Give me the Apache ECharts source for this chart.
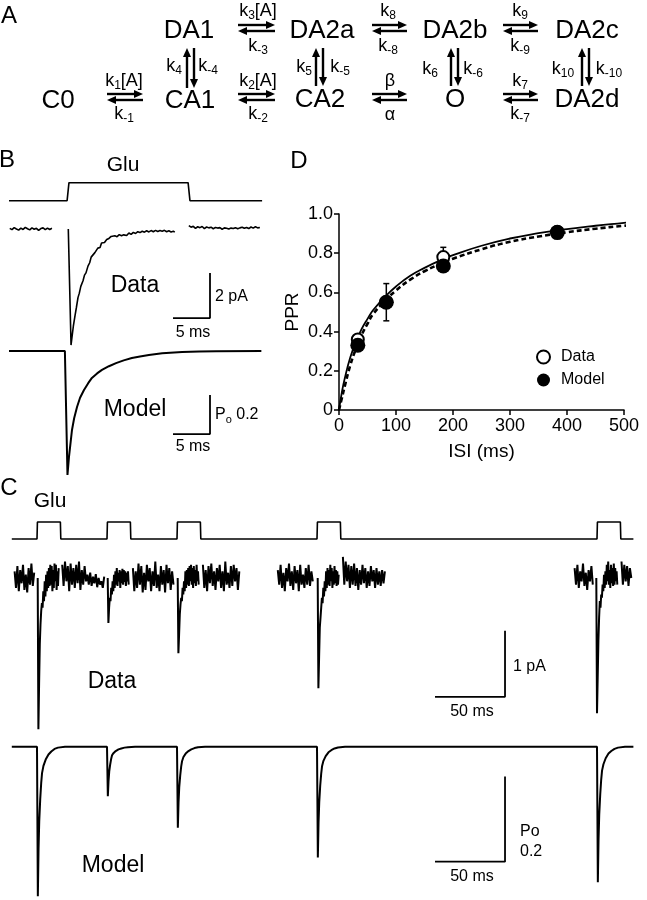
<!DOCTYPE html>
<html>
<head>
<meta charset="utf-8">
<script src="https://cdn.jsdelivr.net/npm/echarts@6.0.0/dist/echarts.min.js"></script>
<style>
  html, body { margin: 0; padding: 0; background: #fff; }
  #main { width: 647px; height: 900px; }
</style>
</head>
<body>
<div id="main"></div>
<script>
var FONT = 'Liberation Sans, Arial, Helvetica, sans-serif';

// ---- D: paired-pulse ratio ----
var isi = [33, 83, 183, 383];
var pprData = [0.36, 0.55, 0.78, 0.91];
var pprDataErr = [0.02, 0.095, 0.05, 0.01];
var pprModel = [0.33, 0.55, 0.735, 0.905];
var fitIsi = [0, 5, 10, 20, 30, 40, 50, 60, 80, 100, 125, 150, 183, 200, 250, 300, 350, 400, 450, 500, 515];
var fitData = [0, 0.09, 0.16, 0.27, 0.35, 0.415, 0.465, 0.51, 0.575, 0.63, 0.685, 0.725, 0.77, 0.79, 0.838, 0.875, 0.902, 0.923, 0.94, 0.955, 0.96];
var fitModel = [0, 0.06, 0.12, 0.23, 0.315, 0.385, 0.44, 0.49, 0.555, 0.61, 0.665, 0.708, 0.752, 0.772, 0.82, 0.858, 0.885, 0.907, 0.925, 0.94, 0.944];

// ---- B: single 16 ms pulse ----
var bPulse = [0.15, 16.5];              // Glu on / off, ms
var bDataPre = [0.03, -0.03, 0.06, 0.0, -0.05, 0.04, -0.02, 0.07, 0.01, -0.04, 0.05, -0.01, 0.03, -0.06, 0.02, 0.05, -0.03, 0.04, -0.02, 0.03]; // pA, every 0.3 ms from -7.6
var bDataPeak = [[0.31, 0], [0.68, -5.16], [0.85, -4.7], [1.0, -4.3], [1.22, -3.85], [1.4, -3.5], [1.62, -3.05], [1.8, -2.85], [2.0, -2.55], [2.3, -2.3], [2.5, -2.05], [2.7, -1.95], [2.97, -1.65], [3.2, -1.5], [3.4, -1.25], [3.6, -1.3], [3.9, -1.05], [4.1, -0.98], [4.3, -0.85], [4.6, -0.82], [4.8, -0.62], [5.0, -0.58], [5.2, -0.6], [5.5, -0.47], [5.8, -0.42], [6.1, -0.33], [6.35, -0.38], [6.6, -0.3], [6.9, -0.34], [7.2, -0.25], [7.5, -0.3], [7.8, -0.26], [8.2, -0.29], [8.5, -0.18], [8.8, -0.24], [9.1, -0.15], [9.4, -0.2], [9.7, -0.12], [10.0, -0.16], [10.3, -0.1], [10.6, -0.14], [10.9, -0.08], [11.2, -0.13], [11.5, -0.07], [11.8, -0.12], [12.1, -0.06], [12.4, -0.11], [12.7, -0.07], [13.0, -0.1], [13.3, -0.06], [13.6, -0.12], [13.9, -0.08], [14.2, -0.13], [14.5, -0.1], [14.7, -0.14]];
var bDataPost = [0.15, 0.08, 0.12, 0.03, 0.1, 0.06, 0.11, 0.02, 0.09, 0.05, 0.08, 0.01, 0.07, 0.04, 0.06, -0.01, 0.05, 0.03, 0.0, 0.04, 0.02, 0.06, 0.01, 0.05, 0.08, 0.03, 0.07, 0.02, 0.09, 0.04, 0.1, 0.05, 0.07]; // pA, every 0.3 ms from 16.6
var bModel = [[-7.7, 0], [-0.15, 0], [0.2, -0.636], [0.4, -0.544], [0.81, -0.405], [1.1, -0.345], [1.49, -0.287], [1.9, -0.24], [2.43, -0.2], [3.0, -0.165], [3.5, -0.138], [4.2, -0.115], [4.86, -0.097], [5.8, -0.078], [6.76, -0.062], [7.8, -0.048], [8.9, -0.036], [10, -0.028], [11.2, -0.021], [13, -0.012], [15.7, -0.005], [18, -0.003], [20.3, -0.001], [26.4, 0]];

// ---- C: pulse train ----
var cPulseOn = [0, 50, 100, 200, 400];
var cPulseWidth = 16.7;
// [start ms, step ms, values in pA]; '-' breaks the trace
var cDataPieces = [
  [-16, 1, [0.1, -0.15, 0.18, -0.2, 0.12, -0.08, 0.2, -0.18, 0.05, -0.22, 0.15, -0.1, 0.22, -0.12, 0.08, '-']],
  [0.5, 0.5, [0, -2.29, -1.6, -1.0, -0.7, -0.5, -0.38, -0.45, -0.2, -0.35, -0.05, -0.28, 0.05, -0.2, 0.1, -0.15, 0.15, -0.12, 0.2, -0.1, 0.18, -0.2, 0.12, -0.15, 0.22, -0.05, 0.2, -0.18, 0.1, -0.12, 0.15, '-']],
  [18, 1, [0.2, -0.12, 0.25, -0.05, 0.18, -0.2, 0.22, -0.1, 0.15, -0.15, 0.2, -0.08, 0.25, -0.18, 0.12, -0.1, 0.18, -0.05, 0.05, -0.1, 0.08, -0.12, 0.02, -0.08, 0.06, -0.14, 0.0, -0.1, -0.05, -0.15, 0.02, '-']],
  [50.5, 0.5, [0, -0.68, -0.45, -0.3, -0.35, -0.15, -0.25, -0.05, -0.2, 0.05, -0.15, 0.1, -0.1, 0.15, -0.12, 0.08, -0.05, 0.12, -0.15, 0.1, -0.08, 0.14, -0.1, 0.12, -0.06, 0.1, -0.12, 0.08, -0.05, 0.1, -0.1, '-']],
  [68.5, 1, [0.15, -0.2, 0.1, -0.15, 0.22, -0.1, 0.18, -0.22, 0.08, -0.18, 0.2, -0.05, 0.15, -0.2, 0.1, -0.12, 0.25, -0.15, 0.05, -0.2, 0.18, -0.1, 0.12, -0.22, 0.2, -0.08, 0.15, -0.18, 0.1, -0.1, '-']],
  [100.5, 0.5, [0, -1.14, -0.85, -0.55, -0.4, -0.3, -0.35, -0.15, -0.25, -0.05, -0.2, 0.1, -0.15, 0.12, -0.1, 0.15, -0.12, 0.18, -0.05, 0.2, -0.1, 0.15, -0.15, 0.18, -0.08, 0.12, -0.12, 0.2, -0.05, 0.1, -0.1, '-']],
  [118.5, 1, [0.2, -0.15, 0.12, -0.2, 0.18, -0.08, 0.22, -0.12, 0.1, -0.18, 0.15, -0.05, 0.2, -0.15, 0.1, -0.2, 0.25, -0.1, 0.08, -0.15, 0.18, -0.12, 0.2, -0.05, 0.15, -0.18, 0.1, '-']],
  [172, 1, [0.12, -0.1, 0.2, -0.15, 0.08, -0.2, 0.15, -0.05, 0.22, -0.12, 0.1, -0.18, 0.18, -0.08, 0.12, -0.2, 0.2, -0.1, 0.05, -0.15, 0.15, -0.1, 0.2, -0.12, 0.1, -0.05, '-']],
  [200.5, 0.5, [0, -1.67, -1.2, -0.75, -0.6, -0.45, -0.3, -0.38, -0.15, -0.28, -0.05, -0.2, 0.1, -0.15, 0.15, -0.1, 0.12, -0.12, 0.2, -0.05, 0.15, -0.15, 0.1, -0.1, 0.18, -0.08, 0.12, -0.12, 0.1, -0.1, 0.05, '-']],
  [218.5, 1, [0.32, -0.1, 0.25, -0.05, 0.2, -0.15, 0.18, -0.1, 0.22, -0.12, 0.15, -0.18, 0.12, -0.1, 0.2, -0.08, 0.15, -0.15, 0.1, -0.12, 0.18, -0.05, 0.12, -0.15, 0.15, -0.1, 0.1, -0.12, 0.12, -0.08, 0.1, '-']],
  [384, 1, [0.15, -0.1, 0.2, -0.15, 0.1, -0.05, 0.22, -0.12, 0.08, -0.18, 0.12, -0.05, 0.18, -0.1, '-']],
  [399.5, 0.5, [0, -2.05, -1.5, -0.95, -0.6, -0.35, -0.45, -0.25, -0.3, -0.1, -0.2, 0.05, -0.15, 0.1, -0.1, 0.2, -0.05, 0.25, -0.1, 0.12, -0.15, 0.2, -0.08, 0.15, -0.12, 0.22, -0.1, 0.15, -0.05, 0.1, -0.1, '-']],
  [417.5, 1, [0.25, -0.1, 0.2, -0.05, 0.18, -0.12, 0.15, 0.0]]
];
var cModel = [[-18, 0], [0, 0], [0.6, -0.351], [1.1, -0.24], [1.6, -0.175], [2.3, -0.123], [3.0, -0.085], [3.6, -0.062], [4.6, -0.045], [6.2, -0.03], [8.2, -0.018], [10.2, -0.011], [12.5, -0.005], [15, -0.002], [20, 0],
  [50, 0], [50.6, -0.116], [51.1, -0.08], [51.6, -0.058], [52.3, -0.041], [53.0, -0.028], [53.6, -0.02], [54.6, -0.015], [56.2, -0.01], [58.2, -0.006], [60.2, -0.004], [62.5, -0.002], [65, -0.001], [70, 0],
  [100, 0], [100.6, -0.19], [101.1, -0.13], [101.6, -0.095], [102.3, -0.067], [103.0, -0.046], [103.6, -0.034], [104.6, -0.024], [106.2, -0.016], [108.2, -0.01], [110.2, -0.006], [112.5, -0.003], [115, -0.001], [120, 0],
  [200, 0], [200.6, -0.26], [201.1, -0.178], [201.6, -0.13], [202.3, -0.091], [203.0, -0.063], [203.6, -0.046], [204.6, -0.033], [206.2, -0.022], [208.2, -0.013], [210.2, -0.008], [212.5, -0.004], [215, -0.0015], [220, 0],
  [400, 0], [400.6, -0.318], [401.1, -0.218], [401.6, -0.159], [402.3, -0.112], [403.0, -0.077], [403.6, -0.056], [404.6, -0.041], [406.2, -0.027], [408.2, -0.016], [410.2, -0.01], [412.5, -0.005], [415, -0.002], [420, 0], [426, 0]];

// scale bars: [time, amplitude]
var bScaleData = [5, 2];
var bScaleModel = [5, 0.2];
var cScaleData = [50, 1];
var cScaleModel = [50, 0.2];

// ---------- helpers ----------
function frame(x0, pxX, t0, t1, y0, pxY, v0, v1) {
  return { left: x0 + t0 * pxX, width: (t1 - t0) * pxX, top: y0 - v1 * pxY, height: (v1 - v0) * pxY };
}
function pieces(list) {
  var pts = [];
  list.forEach(function (p) {
    p[2].forEach(function (v, i) { pts.push([p[0] + i * p[1], v]); });
  });
  return pts;
}
function steps(onsets, width, rise, tStart, tEnd) {
  var pts = [[tStart, 0]];
  onsets.forEach(function (t) {
    pts.push([t, 0], [t + rise, 1], [t + width, 1], [t + width + rise, 0]);
  });
  pts.push([tEnd, 0]);
  return pts;
}
function scaleBar(corner, size) {
  // corner = [t, v] of the bottom-right corner
  return [[corner[0] - size[0], corner[1]], corner, [corner[0], corner[1] + size[1]]];
}
function trace(grid, data, width) {
  return {
    type: 'line', xAxisIndex: grid, yAxisIndex: grid, data: data,
    showSymbol: false, symbol: 'none', silent: true, clip: false,
    lineStyle: { color: '#000', width: width }
  };
}

var bDataTrace = [];
bDataPre.forEach(function (v, i) { bDataTrace.push([-7.6 + i * 0.3, v]); });
bDataTrace.push([-1.5, '-']);
bDataPeak.forEach(function (p) { bDataTrace.push(p); });
bDataTrace.push([15.5, '-']);
bDataPost.forEach(function (v, i) { bDataTrace.push([16.6 + i * 0.3, v]); });

// ---------- layout ----------
var grids = [
  { left: 339, right: 23, top: 214, bottom: 490 },                 // 0: D
  frame(66, 7.4, -7.7, 26.5, 200.7, 18, -0.2, 1.2),                // 1: B Glu
  frame(66, 7.4, -7.7, 26.5, 229, 22.5, -5.5, 0.6),                // 2: B data
  frame(66, 7.4, -7.7, 26.5, 351, 195, -0.7, 0.1),                 // 3: B model
  frame(37, 1.4, -18, 426, 539, 17, -0.2, 1.2),                    // 4: C Glu
  frame(37, 1.4, -18, 426, 578, 66, -2.45, 0.45),                  // 5: C data
  frame(37, 1.4, -18, 426, 747, 430, -0.36, 0.05)                  // 6: C model
];
var ranges = [null,
  [-7.7, 26.5, -0.2, 1.2], [-7.7, 26.5, -5.5, 0.6], [-7.7, 26.5, -0.7, 0.1],
  [-18, 426, -0.2, 1.2], [-18, 426, -2.45, 0.45], [-18, 426, -0.36, 0.05]];

var axisStyle = { lineStyle: { color: '#000', width: 1.5 } };
var xAxes = [{
  type: 'value', gridIndex: 0, min: 0, max: 500, interval: 100,
  axisLine: axisStyle, axisTick: { length: 5, lineStyle: { color: '#000', width: 1.5 } },
  axisLabel: { color: '#000', fontSize: 18, fontFamily: FONT, margin: 7 },
  splitLine: { show: false },
  name: 'ISI (ms)', nameLocation: 'middle', nameGap: 32,
  nameTextStyle: { color: '#000', fontSize: 19, fontFamily: FONT }
}];
var yAxes = [{
  type: 'value', gridIndex: 0, min: 0, max: 1, interval: 0.2,
  axisLine: axisStyle, axisTick: { length: 5, lineStyle: { color: '#000', width: 1.5 } },
  axisLabel: { color: '#000', fontSize: 18, fontFamily: FONT, margin: 6,
    formatter: function (v) { return v === 0 ? '0' : v.toFixed(1); } },
  splitLine: { show: false },
  name: 'PPR', nameLocation: 'middle', nameGap: 37,
  nameTextStyle: { color: '#000', fontSize: 19, fontFamily: FONT }
}];
for (var g = 1; g < grids.length; g++) {
  xAxes.push({ type: 'value', gridIndex: g, min: ranges[g][0], max: ranges[g][1], show: false });
  yAxes.push({ type: 'value', gridIndex: g, min: ranges[g][2], max: ranges[g][3], show: false });
}

// ---------- panel A scheme and labels ----------
var graphics = [];
function txt(s, x, y, size, align) {
  graphics.push({ type: 'text', silent: true, style: {
    text: s, x: x, y: y, fill: '#000', fontSize: size, fontFamily: FONT,
    align: align || 'center', verticalAlign: 'middle' } });
}
function rate(main, sub, tail, x, y) {
  var s = '{m|' + main + '}' + (sub ? '{s|' + sub + '}' : '') + (tail ? '{m|' + tail + '}' : '');
  graphics.push({ type: 'text', silent: true, style: {
    text: s, x: x, y: y, align: 'center', verticalAlign: 'middle',
    rich: {
      m: { fontSize: 18, lineHeight: 22, fontFamily: FONT, fill: '#000' },
      s: { fontSize: 12, lineHeight: 12, fontFamily: FONT, fill: '#000', verticalAlign: 'bottom' }
    } } });
}
function arrow(x1, y1, x2, y2) {
  var dx = x2 - x1, dy = y2 - y1, len = Math.sqrt(dx * dx + dy * dy);
  var ux = dx / len, uy = dy / len, hl = 9, hw = 4;
  var bx = x2 - ux * hl, by = y2 - uy * hl;
  graphics.push({ type: 'line', silent: true, shape: { x1: x1, y1: y1, x2: bx, y2: by },
    style: { stroke: '#000', lineWidth: 2.4 } });
  graphics.push({ type: 'polygon', silent: true,
    shape: { points: [[x2, y2], [bx - uy * hw, by + ux * hw], [bx + uy * hw, by - ux * hw]] },
    style: { fill: '#000' } });
}
function hPair(xa, xb, y) { arrow(xa, y, xb, y); arrow(xb, y + 6, xa, y + 6); }
function vPair(x, ya, yb) { arrow(x, yb, x, ya); arrow(x + 7, ya, x + 7, yb); }

[['DA1', 189, 31], ['DA2a', 322, 31], ['DA2b', 455, 31], ['DA2c', 587, 31],
 ['C0', 58, 101], ['CA1', 190, 101], ['CA2', 320, 100], ['O', 455, 100], ['DA2d', 587, 100]]
  .forEach(function (s) { txt(s[0], s[1], s[2], 26); });

hPair(238, 275, 25); hPair(372, 407, 25); hPair(503, 538, 25);
hPair(107, 143, 94); hPair(238, 275, 94); hPair(372, 407, 94); hPair(503, 538, 94);
vPair(187, 48, 88); vPair(316, 48, 86); vPair(451, 48, 86); vPair(582, 48, 86);

rate('k', '3', '[A]', 258, 11); rate('k', '-3', '', 258, 46);
rate('k', '8', '', 388, 11); rate('k', '-8', '', 388, 46);
rate('k', '9', '', 520, 11); rate('k', '-9', '', 520, 46);
rate('k', '1', '[A]', 124, 81); rate('k', '-1', '', 124, 114);
rate('k', '2', '[A]', 258, 81); rate('k', '-2', '', 258, 114);
rate('β', '', '', 390, 81); rate('α', '', '', 390, 115);
rate('k', '7', '', 520, 81); rate('k', '-7', '', 520, 114);
rate('k', '4', '', 174, 66); rate('k', '-4', '', 208, 66);
rate('k', '5', '', 304, 67); rate('k', '-5', '', 340, 67);
rate('k', '6', '', 430, 69); rate('k', '-6', '', 473, 69);
rate('k', '10', '', 563, 69); rate('k', '-10', '', 609, 69);

// panel letters
txt('A', 9, 16, 24); txt('B', 7, 160, 24); txt('C', 9, 488, 24); txt('D', 299, 161, 24);
// B labels
txt('Glu', 123, 165, 21); txt('Data', 135, 286, 23); txt('Model', 135, 410, 23);
txt('2 pA', 215, 297, 16, 'left'); txt('5 ms', 193, 333, 16); txt('5 ms', 193, 447, 16);
graphics.push({ type: 'text', silent: true, style: {
  text: '{m|P}{s|o}{m| 0.2}', x: 215, y: 415, align: 'left', verticalAlign: 'middle',
  rich: { m: { fontSize: 16, lineHeight: 20, fontFamily: FONT, fill: '#000' },
          s: { fontSize: 11, lineHeight: 11, fontFamily: FONT, fill: '#000', verticalAlign: 'bottom' } } } });
// C labels
txt('Glu', 50, 501, 21); txt('Data', 112, 682, 23); txt('Model', 113, 866, 23);
txt('1 pA', 513, 667, 16, 'left'); txt('50 ms', 472, 712, 16); txt('50 ms', 472, 877, 16);
txt('Po', 520, 832, 16, 'left'); txt('0.2', 520, 852, 16, 'left');

// ---------- series ----------
var series = [
  { name: 'Data fit', type: 'line', xAxisIndex: 0, yAxisIndex: 0, smooth: true, clip: false,
    showSymbol: false, symbol: 'none', silent: true,
    data: fitIsi.map(function (x, i) { return [x, fitData[i]]; }),
    lineStyle: { color: '#000', width: 1.8 } },
  { name: 'Model fit', type: 'line', xAxisIndex: 0, yAxisIndex: 0, smooth: true, clip: false,
    showSymbol: false, symbol: 'none', silent: true,
    data: fitIsi.map(function (x, i) { return [x, fitModel[i]]; }),
    lineStyle: { color: '#000', width: 2.6, type: [5, 3] } },
  { type: 'custom', xAxisIndex: 0, yAxisIndex: 0, silent: true, z: 3,
    encode: { x: 0, y: [1, 2] },
    data: isi.map(function (x, i) { return [x, pprData[i] - pprDataErr[i], pprData[i] + pprDataErr[i]]; }),
    renderItem: function (params, api) {
      var lo = api.coord([api.value(0), api.value(1)]);
      var hi = api.coord([api.value(0), api.value(2)]);
      var st = { stroke: '#000', lineWidth: 1.5 };
      return { type: 'group', children: [
        { type: 'line', shape: { x1: lo[0], y1: lo[1], x2: hi[0], y2: hi[1] }, style: st },
        { type: 'line', shape: { x1: lo[0] - 3, y1: lo[1], x2: lo[0] + 3, y2: lo[1] }, style: st },
        { type: 'line', shape: { x1: hi[0] - 3, y1: hi[1], x2: hi[0] + 3, y2: hi[1] }, style: st }
      ] };
    } },
  { name: 'Data', type: 'scatter', xAxisIndex: 0, yAxisIndex: 0, z: 4, symbol: 'circle', symbolSize: 12,
    data: isi.map(function (x, i) { return [x, pprData[i]]; }),
    itemStyle: { color: '#fff', borderColor: '#000', borderWidth: 2, opacity: 1 } },
  { name: 'Model', type: 'scatter', xAxisIndex: 0, yAxisIndex: 0, z: 5, symbol: 'circle', symbolSize: 15,
    data: isi.map(function (x, i) { return [x, pprModel[i]]; }),
    itemStyle: { color: '#000', opacity: 1 } },

  trace(1, steps([bPulse[0]], bPulse[1] - bPulse[0], 0.25, -7.7, 26.5), 1.6),
  trace(2, bDataTrace, 1.6),
  trace(2, scaleBar([19.46, -3.96], bScaleData), 1.8),
  trace(3, bModel, 2),
  trace(3, scaleBar([19.46, -0.426], bScaleModel), 1.8),

  trace(4, steps(cPulseOn, cPulseWidth, 0.3, -18, 426), 1.6),
  trace(5, pieces(cDataPieces), 2),
  trace(5, scaleBar([334.3, -1.8], cScaleData), 1.8),
  trace(6, cModel, 2),
  trace(6, scaleBar([334.3, -0.27], cScaleModel), 1.8)
];

var chart = echarts.init(document.getElementById('main'), null, { renderer: 'canvas' });
chart.setOption({
  animation: false,
  backgroundColor: '#fff',
  grid: grids,
  xAxis: xAxes,
  yAxis: yAxes,
  legend: {
    data: ['Data', 'Model'], orient: 'vertical', left: 531, top: 344,
    itemWidth: 13, itemHeight: 13, itemGap: 7, icon: 'circle', selectedMode: false,
    textStyle: { color: '#000', fontSize: 16, fontFamily: FONT, padding: [0, 0, 0, 6] }
  },
  graphic: graphics,
  series: series
});
</script>
</body>
</html>
